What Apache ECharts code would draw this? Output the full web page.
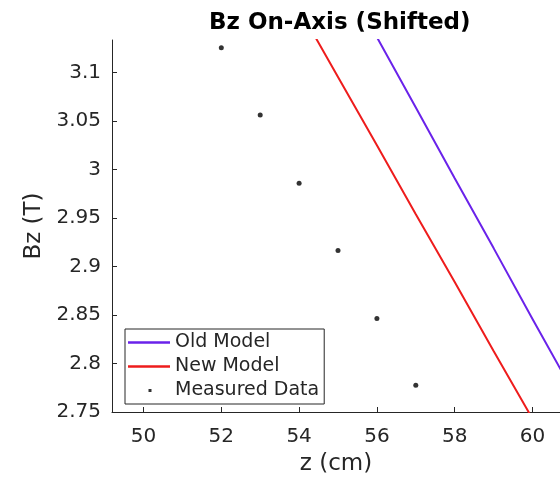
<!DOCTYPE html>
<html>
<head>
<meta charset="utf-8">
<script src="https://cdn.jsdelivr.net/npm/echarts@6/dist/echarts.min.js"></script>
<style>html,body{margin:0;padding:0;background:#fff;}#c{width:560px;height:481px;}</style>
</head>
<body>
<div id="c"></div>
<script>
const titleText = 'Bz On-Axis (Shifted)';
const xName = 'z (cm)';
const yName = 'Bz (T)';
const xTicks = [50, 52, 54, 56, 58, 60];
const yTicks = [2.75, 2.8, 2.85, 2.9, 2.95, 3, 3.05, 3.1];
const zModel = [54, 55, 56, 57, 58, 59, 60, 61];
const oldModel = [3.282, 3.209, 3.1365, 3.064, 2.991, 2.919, 2.846, 2.774];
const newModel = [3.166, 3.0955, 3.025, 2.954, 2.884, 2.813, 2.743, 2.672];
const zMeasured = [52, 53, 54, 55, 56, 57];
const bMeasured = [3.1257, 3.0563, 2.986, 2.9166, 2.8464, 2.7775];

const FONT = 'DejaVu Sans';
const OLD_COLOR = '#6a22ea';
const NEW_COLOR = '#ee1c1c';
const chart = echarts.init(document.getElementById('c'), null, {renderer: 'canvas'});
const pair = (xs, ys) => xs.map((x, i) => [x, ys[i]]);
const lineIcon = 'path://M0,0M42,14M0,5.75L42,5.75L42,8.25L0,8.25Z';
const dotIcon = 'path://M0,0M42,14M20.5,5.5L23.5,5.5L23.5,8.5L20.5,8.5Z';

chart.setOption({
  animation: false,
  backgroundColor: '#ffffff',
  title: {
    text: titleText, left: 204, top: 7,
    textStyle: {fontFamily: FONT, fontWeight: 'bold', fontSize: 23, color: '#000'}
  },
  grid: {left: 112, top: 40, width: 448, height: 377, containLabel: false},
  legend: {
    left: 125, top: 329, orient: 'vertical',
    itemWidth: 42, itemHeight: 14, itemGap: 5,
    padding: [4, 5, 4, 3],
    borderColor: '#262626', borderWidth: 1, backgroundColor: '#fff',
    textStyle: {fontFamily: FONT, fontSize: 19, color: '#262626'},
    data: [
      {name: 'Old Model', icon: lineIcon},
      {name: 'New Model', icon: lineIcon},
      {name: 'Measured Data', icon: dotIcon}
    ]
  },
  xAxis: {
    type: 'value', min: 49.19, max: 60.707,
    name: xName, nameLocation: 'middle', nameGap: 41,
    nameTextStyle: {fontFamily: FONT, fontSize: 23, color: '#262626'},
    axisLine: {show: true, lineStyle: {color: '#262626', width: 1}},
    axisTick: {show: true, inside: true, length: 5, customValues: xTicks, lineStyle: {color: '#262626'}},
    axisLabel: {customValues: xTicks, fontFamily: FONT, fontSize: 20, color: '#262626', margin: 15},
    splitLine: {show: false}
  },
  yAxis: {
    type: 'value', min: 2.75, max: 3.1336,
    name: yName, nameLocation: 'middle', nameGap: 58,
    nameTextStyle: {fontFamily: FONT, fontSize: 23, color: '#262626'},
    axisLine: {show: true, lineStyle: {color: '#262626', width: 1}},
    axisTick: {show: true, inside: true, length: 5, customValues: yTicks, lineStyle: {color: '#262626'}},
    axisLabel: {customValues: yTicks, fontFamily: FONT, fontSize: 20, color: '#262626', margin: 11,
      formatter: v => String(+v.toFixed(2))},
    splitLine: {show: false}
  },
  series: [
    {name: 'Old Model', type: 'line', data: pair(zModel, oldModel), symbol: 'none',
      lineStyle: {color: OLD_COLOR, width: 2}, itemStyle: {color: OLD_COLOR}, clip: true},
    {name: 'New Model', type: 'line', data: pair(zModel, newModel), symbol: 'none',
      lineStyle: {color: NEW_COLOR, width: 2}, itemStyle: {color: NEW_COLOR}, clip: true},
    {name: 'Measured Data', type: 'scatter', data: pair(zMeasured, bMeasured),
      symbol: 'circle', symbolSize: 5, itemStyle: {color: '#000'}}
  ]
});
</script>
</body>
</html>
